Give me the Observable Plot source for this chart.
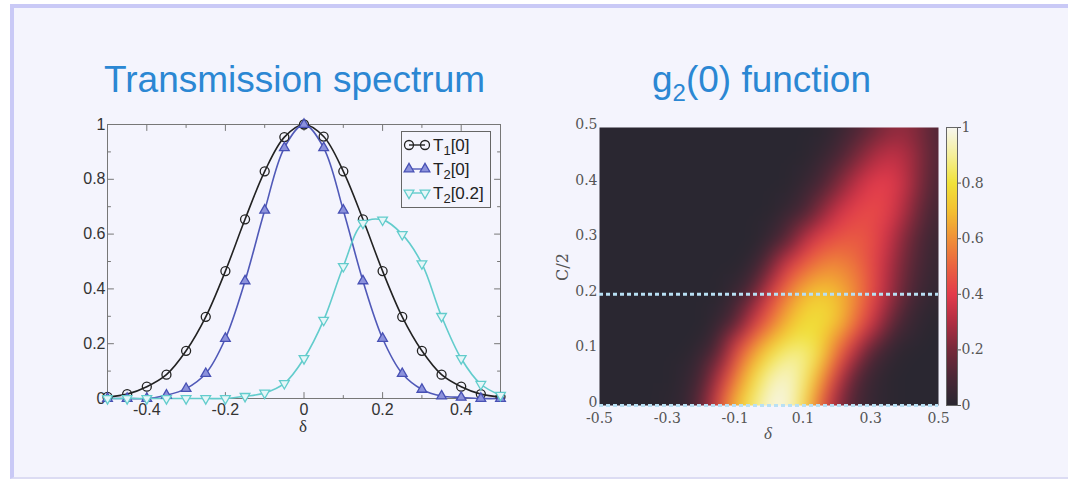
<!DOCTYPE html>
<html><head><meta charset="utf-8">
<script src="https://cdn.jsdelivr.net/npm/d3@7"></script>
<script src="https://cdn.jsdelivr.net/npm/@observablehq/plot@0.6"></script>
<style>
html,body{margin:0;padding:0;background:#fff;}
#page{position:relative;width:1068px;height:482px;overflow:hidden;}
#panel{position:absolute;left:10px;top:4px;width:1080px;height:475px;background:#f4f4fd;border-top:4px solid #c9c9f6;border-left:4px solid #c9c9f6;border-bottom:2px solid #dcdcf3;box-sizing:border-box;}
.layer{position:absolute;top:0;}
</style></head>
<body><div id="page"><div id="panel"></div>
<div id="left" class="layer" style="left:0"></div>
<div id="right" class="layer" style="left:540px"></div>
<div id="cbar" class="layer" style="left:946px"></div>
<svg id="overlay" class="layer" style="left:0" width="1068" height="482"></svg>
</div>
<script>
// ---------- data: transmission spectrum ----------
const delta = [-0.5,-0.45,-0.4,-0.35,-0.3,-0.25,-0.2,-0.15,-0.1,-0.05,0,0.05,0.1,0.15,0.2,0.25,0.3,0.35,0.4,0.45,0.5];
const t1_0 = [0.006,0.016,0.043,0.087,0.174,0.298,0.465,0.654,0.829,0.954,1,0.956,0.829,0.654,0.465,0.298,0.174,0.087,0.043,0.016,0.006];
const t2_0 = [0,0,0,0.012,0.036,0.091,0.219,0.429,0.687,0.915,1,0.915,0.687,0.429,0.219,0.091,0.033,0.009,0.004,0,0];
const t2_02 = [0,0,0,0,0,0,0,0.008,0.02,0.055,0.146,0.286,0.482,0.640,0.652,0.599,0.492,0.300,0.146,0.052,0.012];
const seriesNames = ["T1[0]", "T2[0]", "T2[0.2]"];
const legendBase = ["T", "T", "T"];
const legendSub = ["1", "2", "2"];
const legendRest = ["[0]", "[0]", "[0.2]"];
const leftXMajor = [-0.4,-0.2,0,0.2,0.4];
const leftXMinor = [-0.3,-0.1,0.1,0.3];
const leftYMajor = [0,0.2,0.4,0.6,0.8,1];
const leftYMinor = [0.1,0.3,0.5,0.7,0.9];

// ---------- data: g2(0) heat map ----------
const heatDelta = [-0.5,-0.45,-0.4,-0.35,-0.3,-0.25,-0.2,-0.15,-0.1,-0.05,0,0.05,0.1,0.15,0.2,0.25,0.3,0.35,0.4,0.45,0.5];
const heatC = [0,0.05,0.1,0.15,0.2,0.25,0.3,0.35,0.4,0.45,0.5];
const g2Rows = [
  [0,0,0,0,0.01,0.03,0.15,0.42,0.70,0.86,0.98,0.99,0.82,0.50,0.25,0.10,0.04,0.01,0,0,0],
  [0,0,0,0,0,0.02,0.08,0.30,0.55,0.77,0.92,0.96,0.88,0.65,0.38,0.15,0.05,0.01,0,0,0],
  [0,0,0,0,0,0,0.03,0.12,0.40,0.60,0.76,0.86,0.88,0.80,0.55,0.35,0.15,0.05,0.01,0,0],
  [0,0,0,0,0,0,0,0.03,0.12,0.35,0.52,0.68,0.78,0.80,0.72,0.55,0.38,0.20,0.07,0.02,0],
  [0,0,0,0,0,0,0,0,0.04,0.15,0.38,0.55,0.68,0.74,0.70,0.60,0.45,0.30,0.15,0.05,0.02],
  [0,0,0,0,0,0,0,0,0,0.04,0.18,0.38,0.50,0.58,0.60,0.55,0.45,0.32,0.18,0.08,0.03],
  [0,0,0,0,0,0,0,0,0,0,0.03,0.12,0.30,0.42,0.47,0.49,0.46,0.36,0.22,0.10,0.04],
  [0,0,0,0,0,0,0,0,0,0,0,0.03,0.08,0.22,0.35,0.42,0.45,0.42,0.30,0.15,0.06],
  [0,0,0,0,0,0,0,0,0,0,0,0,0.03,0.08,0.20,0.32,0.40,0.42,0.35,0.20,0.08],
  [0,0,0,0,0,0,0,0,0,0,0,0,0,0.03,0.08,0.18,0.28,0.34,0.32,0.22,0.10],
  [0,0,0,0,0,0,0,0,0,0,0,0,0,0,0.03,0.08,0.15,0.22,0.25,0.20,0.10]
];
const dashedC = [0, 0.2];
const rightXTicks = [-0.5,-0.3,-0.1,0.1,0.3,0.5];
const rightYTicks = [0,0.1,0.2,0.3,0.4,0.5];
const cbTicks = [0,0.2,0.4,0.6,0.8,1];
const cbStops = [0,0.1,0.2,0.3,0.4,0.5,0.6,0.7,0.8,0.9,1];
const cbColors = ["#2a2731","#4a2736","#75293a","#b02d42","#e33b4c","#ea6340","#f09038","#f3c031","#f1e23a","#f5ef9a","#f7f6f0"];

// ---------- build tables ----------
const curveRows = [t1_0, t2_0, t2_02].flatMap((ys, s) => ys.map((y, i) => ({x: delta[i], y, s: seriesNames[s]})));
const g2Grid = g2Rows.flatMap((row, j) => row.map((v, i) => ({d: heatDelta[i], c: heatC[j], v})));

const lineColors = ["#222222", "#5059b8", "#62cccc"];
const tickShape = {draw(ctx, l) { ctx.moveTo(0, 0); ctx.lineTo(0, -l); }};
const rot = {left: 90, right: -90, top: 180, bottom: 0};
function inTicks(vals, anchor, len) {
  const ch = (anchor === "left" || anchor === "right") ? "y" : "x";
  return Plot.vector(vals, {[ch]: d => d, frameAnchor: anchor, rotate: rot[anchor], length: len,
    anchor: "start", shape: tickShape, stroke: "#777", fill: "none", strokeWidth: 1});
}
const fmt = d => String(d);
const sansFont = "'Liberation Sans', Arial, sans-serif";
const serifFont = "'DejaVu Serif', 'Liberation Serif', serif";

const leftPlot = Plot.plot({
  width: 540, height: 482,
  marginLeft: 107, marginRight: 40, marginTop: 124, marginBottom: 84,
  x: {domain: [-0.5, 0.5]}, y: {domain: [0, 1]},
  style: {background: "transparent", fontFamily: sansFont, fontSize: "16px", color: "#333", overflow: "visible"},
  marks: [
    Plot.frame({stroke: "#777"}),
    ...["top", "bottom"].flatMap(a => [inTicks(leftXMajor, a, 6), inTicks(leftXMinor, a, 3)]),
    ...["left", "right"].flatMap(a => [inTicks(leftYMajor.slice(1, -1), a, 6), inTicks(leftYMinor, a, 3)]),
    Plot.axisX(leftXMajor, {tickSize: 0, tickPadding: 5, label: null, tickFormat: fmt, fontSize: 16}),
    Plot.axisY(leftYMajor, {tickSize: 0, tickPadding: 2, label: null, tickFormat: fmt, fontSize: 16}),
    Plot.line(curveRows, {x: "x", y: "y", z: "s", stroke: d => d.s, curve: "catmull-rom", strokeWidth: 1.6}),
    Plot.dot(curveRows.filter(d => d.s === seriesNames[0]), {x: "x", y: "y", r: 4.5, stroke: lineColors[0], fill: "none", strokeWidth: 1.3}),
    Plot.dot(curveRows.filter(d => d.s === seriesNames[1]), {x: "x", y: "y", r: 3.6, symbol: "triangle", stroke: "#4750b4", fill: "#8c92dc", strokeWidth: 1.3}),
    Plot.dot(curveRows.filter(d => d.s === seriesNames[2]), {x: "x", y: "y", r: 3.6, symbol: "triangle", rotate: 180, stroke: lineColors[2], fill: "#e6f6f8", strokeWidth: 1.3})
  ],
  color: {domain: seriesNames, range: lineColors}
});
document.getElementById("left").append(leftPlot);

const colorScale = {type: "linear", domain: cbStops, range: cbColors, clamp: true};

const rightPlot = Plot.plot({
  width: 528, height: 482,
  marginLeft: 59, marginRight: 130, marginTop: 127, marginBottom: 77,
  x: {domain: [-0.5, 0.5]}, y: {domain: [0, 0.5]},
  color: colorScale,
  style: {background: "transparent", fontFamily: serifFont, fontSize: "14px", color: "#555", overflow: "visible"},
  marks: [
    Plot.raster(g2Grid, {x: "d", y: "c", fill: "v", x1: -0.5, x2: 0.5, y1: 0, y2: 0.5, interpolate: "barycentric", blur: 8}),
    Plot.ruleY(dashedC, {stroke: "#b8e0f4", strokeWidth: 3, strokeDasharray: "4,3"}),
    Plot.axisX(rightXTicks, {tickSize: 0, tickPadding: 8, label: null, tickFormat: fmt, fontSize: 14}),
    Plot.axisY(rightYTicks, {tickSize: 0, tickPadding: 2, label: null, tickFormat: fmt, fontSize: 14, dy: -3})
  ]
});
document.getElementById("right").append(rightPlot);

const cbPlot = Plot.plot({
  width: 60, height: 482,
  marginLeft: 0, marginRight: 49, marginTop: 127, marginBottom: 77,
  x: {domain: [0, 1], axis: null}, y: {domain: [0, 1]},
  color: colorScale,
  style: {background: "transparent", fontFamily: serifFont, fontSize: "14px", color: "#555", overflow: "visible"},
  marks: [
    Plot.raster({fill: (x, y) => y, x1: 0, x2: 1, y1: 0, y2: 1}),
    Plot.frame({stroke: "#666"}),
    Plot.axisY(cbTicks, {anchor: "right", tickSize: 3, tickPadding: 1, label: null, tickFormat: fmt, fontSize: 14, stroke: "#555"})
  ]
});
document.getElementById("cbar").append(cbPlot);

// ---------- overlay: titles, labels, legend ----------
const ov = d3.select("#overlay");
const titleColor = "#2b87d3";
ov.append("text").attr("x", 104).attr("y", 92).attr("font-family", sansFont).attr("font-size", 37)
  .attr("fill", titleColor).text("Transmission spectrum");
const t2 = ov.append("text").attr("x", 652).attr("y", 92).attr("font-family", sansFont).attr("font-size", 37).attr("fill", titleColor);
t2.append("tspan").text("g");
t2.append("tspan").attr("font-size", 24).attr("dy", 9).text("2");
t2.append("tspan").attr("dy", -9).text("(0) function");

ov.append("text").attr("x", 303).attr("y", 432).attr("text-anchor", "middle").attr("font-family", "'Liberation Serif', serif")
  .attr("font-size", 17).attr("fill", "#333").text("δ");
ov.append("text").attr("x", 768).attr("y", 439).attr("text-anchor", "middle").attr("font-family", "'Liberation Serif', serif")
  .attr("font-style", "italic").attr("font-size", 17).attr("fill", "#555").text("δ");
ov.append("text").attr("transform", "translate(568,267) rotate(-90)").attr("text-anchor", "middle")
  .attr("font-family", serifFont).attr("font-size", 16).attr("fill", "#555").text("C/2");

// legend
ov.append("rect").attr("x", 401.5).attr("y", 131.5).attr("width", 89).attr("height", 76)
  .attr("fill", "none").attr("stroke", "#666").attr("stroke-width", 1);
const rowsY = [145, 169, 193];
const sym = [d3.symbol(d3.symbolCircle, Math.PI * 4.5 * 4.5)(), d3.symbol(d3.symbolTriangle, Math.PI * 3.6 * 3.6)(), d3.symbol(d3.symbolTriangle, Math.PI * 3.6 * 3.6)()];
const symFill = ["none", "#8c92dc", "#e6f6f8"];
const symStroke = ["#222222", "#4750b4", "#62cccc"];
rowsY.forEach((y, i) => {
  ov.append("line").attr("x1", 409).attr("x2", 425).attr("y1", y).attr("y2", y).attr("stroke", lineColors[i]).attr("stroke-width", 1.4);
  [409, 425].forEach(x => ov.append("path").attr("d", sym[i])
    .attr("transform", `translate(${x},${y})` + (i === 2 ? " rotate(180)" : ""))
    .attr("fill", symFill[i]).attr("stroke", symStroke[i]).attr("stroke-width", 1.3));
  const tx = ov.append("text").attr("x", 433).attr("y", y + 6).attr("font-family", sansFont).attr("font-size", 17).attr("fill", "#222");
  tx.append("tspan").text(legendBase[i]);
  tx.append("tspan").attr("font-size", 13).attr("dy", 4).text(legendSub[i]);
  tx.append("tspan").attr("dy", -4).text(legendRest[i]);
});
</script>
</body></html>
